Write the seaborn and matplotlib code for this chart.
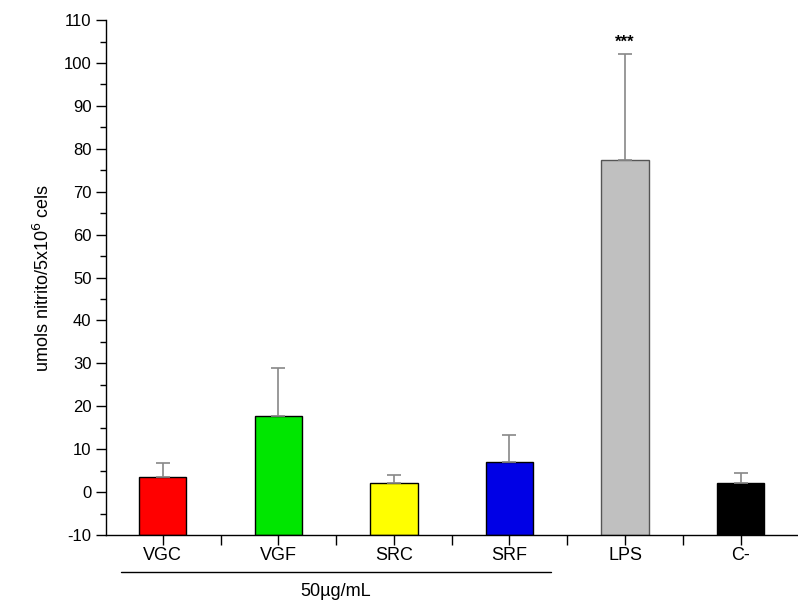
import matplotlib
matplotlib.use("Agg")
import matplotlib.pyplot as plt
import seaborn as sns
import pandas as pd
import numpy as np
from matplotlib.ticker import MultipleLocator, FixedLocator

categories = ["VGC", "VGF", "SRC", "SRF", "LPS", "C-"]
values = [3.5, 17.8, 2.0, 7.0, 77.4, 2.0]
errors = [3.2, 11.2, 1.9, 6.3, 24.6, 2.4]
colors = ["#ff0000", "#00e600", "#ffff00", "#0000e6", "#c0c0c0", "#000000"]
ylabel = "umols nitrito/5x10$^{6}$ cels"
group_label = "50\u00b5g/mL"
signif = "***"

sns.set_style("white")
plt.rcParams['font.family'] = ['Liberation Sans', 'DejaVu Sans']
plt.rcParams['axes.unicode_minus'] = False
for k in ["text.color", "axes.labelcolor", "xtick.color", "ytick.color"]:
    plt.rcParams[k] = "black"

df = pd.DataFrame({"cat": categories, "val": values})
fig = plt.figure(figsize=(7.98, 6.10), dpi=100)
ax = fig.add_axes([0.133, 0.123, 0.866, 0.844])

sns.barplot(data=df, x="cat", y="val", hue="cat", palette=colors, legend=False,
            saturation=1, width=0.41, edgecolor="black", linewidth=1.0, ax=ax, errorbar=None)

base = -10
for p, v in zip(ax.patches, values):
    p.set_y(base)
    p.set_height(v - base)
ax.patches[4].set_edgecolor("#555555")

x = np.arange(len(categories))
ax.errorbar(x, values, yerr=[np.zeros(len(values)), errors], fmt="none",
            ecolor="#888888", elinewidth=1.2, capsize=5, capthick=1.2, zorder=1)

ax.text(4, values[4] + errors[4] + 1.0, signif, ha="center", va="bottom",
        fontsize=12, fontweight="bold")

ax.set_xlim(-0.49, 5.49)
ax.set_ylim(-10, 110)
ax.yaxis.set_major_locator(MultipleLocator(10))
ax.yaxis.set_minor_locator(MultipleLocator(5))
ax.xaxis.set_minor_locator(FixedLocator(np.arange(0.5, len(categories) - 0.5, 1.0)))

for s in ["top", "right"]:
    ax.spines[s].set_visible(False)
for s in ["left", "bottom"]:
    ax.spines[s].set_color("black")
    ax.spines[s].set_linewidth(1.0)

ax.tick_params(axis="y", which="major", direction="out", length=7, width=1, left=True, labelsize=12)
ax.tick_params(axis="y", which="minor", direction="out", length=4, width=1, left=True)
ax.tick_params(axis="x", which="major", direction="out", length=7, width=1, bottom=True, labelsize=13, pad=2)
ax.tick_params(axis="x", which="minor", direction="out", length=7, width=1, bottom=True)
ax.set_xlabel("")
ax.set_ylabel(ylabel, fontsize=13, labelpad=8)

# group underline and label
trans = ax.get_xaxis_transform()
ax.plot([-0.36, 3.36], [-0.072, -0.072], transform=trans, color="black", lw=1.0, clip_on=False)
ax.text(1.5, -0.094, group_label, transform=trans, ha="center", va="top", fontsize=13, clip_on=False)

fig.savefig("out.png", dpi=100)
